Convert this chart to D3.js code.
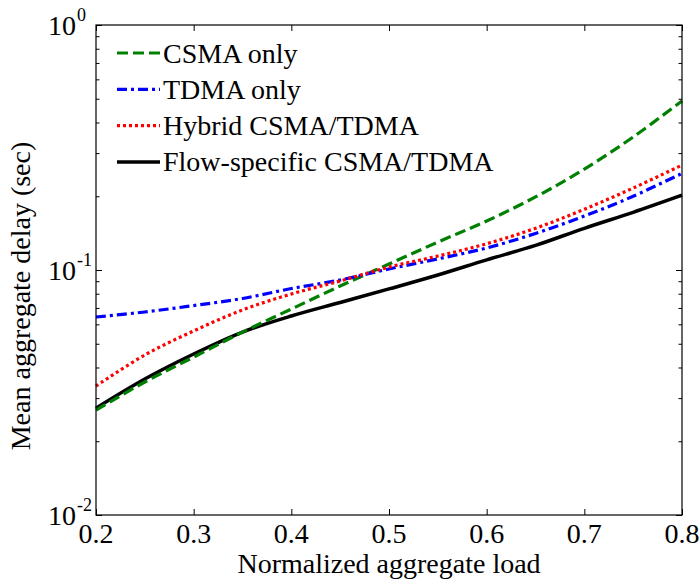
<!DOCTYPE html>
<html>
<head>
<meta charset="utf-8">
<script src="https://cdn.jsdelivr.net/npm/d3@7"></script>
<style>
  body { margin: 0; background: #fff; }
</style>
</head>
<body>
<svg id="chart" width="700" height="581"></svg>
<script>
// load values (x axis)
var loads = [0.2, 0.25, 0.3, 0.35, 0.4, 0.45, 0.5, 0.55, 0.6, 0.65, 0.7, 0.75, 0.8];

// mean aggregate delay (sec)
var csmaOnly   = [0.0268, 0.0349, 0.0441, 0.0558, 0.0693, 0.0860, 0.1058, 0.130, 0.1585, 0.1987, 0.258, 0.349, 0.49];
var tdmaOnly   = [0.0643, 0.0674, 0.0716, 0.0765, 0.084, 0.091, 0.101, 0.111, 0.123, 0.141, 0.166, 0.20, 0.248];
var hybrid     = [0.0336, 0.045, 0.0564, 0.0687, 0.0798, 0.0902, 0.1028, 0.114, 0.128, 0.148, 0.177, 0.216, 0.268];
var flowSpec   = [0.0273, 0.0359, 0.0454, 0.0558, 0.0649, 0.0737, 0.0837, 0.0954, 0.110, 0.126, 0.148, 0.172, 0.202];

var seriesNames = ["CSMA only", "TDMA only", "Hybrid CSMA/TDMA", "Flow-specific CSMA/TDMA"];
var xTicks = [0.2, 0.3, 0.4, 0.5, 0.6, 0.7, 0.8];
var yTicks = [0.01, 0.1, 1];
var yTickExp = ["-2", "-1", "0"];

var FONT = "'Liberation Serif', 'Times New Roman', Times, 'DejaVu Serif', serif";

var margin = {left: 96, right: 18, top: 25, bottom: 66};
var width = 700, height = 581;

var svg = d3.select("#chart");

var x = d3.scaleLinear().domain([0.2, 0.8]).range([margin.left, width - margin.right]);
var y = d3.scaleLog().domain([0.01, 1]).range([height - margin.bottom, margin.top]);

var styles = [
    {color: "#008000", dash: "11,5", w: 3.2},
    {color: "#0000ff", dash: "10,4,3,4", w: 3.2},
    {color: "#ff0000", dash: "3,3", w: 3.2},
    {color: "#000000", dash: null, w: 3.5}
];
var allSeries = [csmaOnly, tdmaOnly, hybrid, flowSpec];

// minor ticks of the log axis
var minor = [];
[0.01, 0.1].forEach(function (d) {
    for (var k = 2; k <= 9; k++) minor.push(d * k);
});

var line = d3.line()
    .x(function (d, i) { return x(loads[i]); })
    .y(function (d) { return y(d); })
    .curve(d3.curveCatmullRom);

var plot = svg.append("g");

// draw order: black first so the dashed ones show over it
[3, 0, 1, 2].forEach(function (s) {
    plot.append("path")
        .datum(allSeries[s])
        .attr("d", line)
        .attr("fill", "none")
        .attr("stroke", styles[s].color)
        .attr("stroke-width", styles[s].w)
        .attr("stroke-dasharray", styles[s].dash);
});

// axes, ticks inward on all four sides
var x0 = x.range()[0], x1 = x.range()[1], yb = y.range()[0], yt = y.range()[1];

function noDomain(g) { g.select(".domain").remove(); }

svg.append("g")
    .attr("transform", "translate(0," + yb + ")")
    .call(d3.axisBottom(x).tickValues(xTicks).tickSize(-6).tickFormat(""))
    .call(noDomain);
svg.append("g")
    .attr("transform", "translate(0," + yt + ")")
    .call(d3.axisTop(x).tickValues(xTicks).tickSize(-6).tickFormat(""))
    .call(noDomain);

svg.append("g")
    .attr("transform", "translate(" + x0 + ",0)")
    .call(d3.axisLeft(y).tickValues(yTicks).tickSize(-6).tickFormat(""))
    .call(noDomain);
svg.append("g")
    .attr("transform", "translate(" + x0 + ",0)")
    .call(d3.axisLeft(y).tickValues(minor).tickSize(-3.5).tickFormat(""))
    .call(noDomain);
svg.append("g")
    .attr("transform", "translate(" + x1 + ",0)")
    .call(d3.axisRight(y).tickValues(yTicks).tickSize(-6).tickFormat(""))
    .call(noDomain);
svg.append("g")
    .attr("transform", "translate(" + x1 + ",0)")
    .call(d3.axisRight(y).tickValues(minor).tickSize(-3.5).tickFormat(""))
    .call(noDomain);

svg.selectAll(".tick line").attr("stroke", "#000").attr("stroke-width", 1);

svg.append("rect")
    .attr("x", x0).attr("y", yt)
    .attr("width", x1 - x0).attr("height", yb - yt)
    .attr("fill", "none").attr("stroke", "#000").attr("stroke-width", 1.2);

// tick labels
svg.selectAll(".xlab")
    .data(xTicks)
    .enter().append("text")
    .attr("x", function (d) { return x(d); })
    .attr("y", yb + 28)
    .attr("text-anchor", "middle")
    .attr("font-family", FONT)
    .attr("font-size", "28px")
    .text(function (d) { return d.toFixed(1); });

var ylab = svg.selectAll(".ylab")
    .data(yTicks)
    .enter().append("g");
ylab.append("text")
    .attr("x", 76)
    .attr("y", function (d) { return y(d) + 10; })
    .attr("text-anchor", "end")
    .attr("font-family", FONT)
    .attr("font-size", "28px")
    .text("10");
ylab.append("text")
    .attr("x", 77)
    .attr("y", function (d) { return y(d) - 4; })
    .attr("font-family", FONT)
    .attr("font-size", "18px")
    .text(function (d, i) { return yTickExp[i]; });

// axis titles
svg.append("text")
    .attr("x", (x0 + x1) / 2)
    .attr("y", 573)
    .attr("text-anchor", "middle")
    .attr("font-family", FONT)
    .attr("font-size", "28px")
    .text("Normalized aggregate load");

svg.append("text")
    .attr("transform", "translate(30,296) rotate(-90)")
    .attr("text-anchor", "middle")
    .attr("font-family", FONT)
    .attr("font-size", "28px")
    .text("Mean aggregate delay (sec)");

// legend
var legend = svg.append("g");
seriesNames.forEach(function (name, i) {
    var ly = 53 + i * 36.3;
    legend.append("line")
        .attr("x1", 117).attr("x2", 160)
        .attr("y1", ly).attr("y2", ly)
        .attr("stroke", styles[i].color)
        .attr("stroke-width", styles[i].w)
        .attr("stroke-dasharray", styles[i].dash);
    legend.append("text")
        .attr("x", 163)
        .attr("y", ly + 9.5)
        .attr("font-family", FONT)
        .attr("font-size", "28px")
        .text(name);
});
</script>
</body>
</html>
